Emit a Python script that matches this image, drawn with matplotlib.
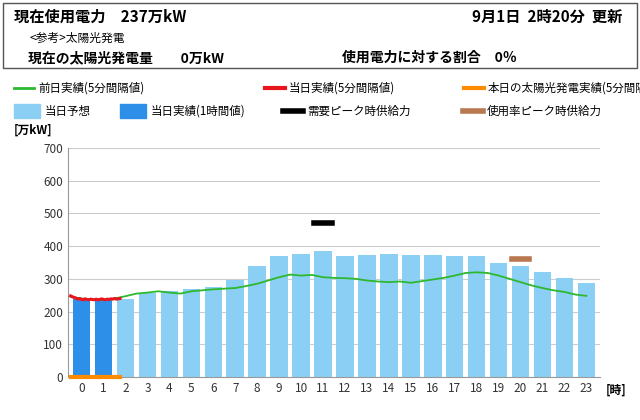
import matplotlib
matplotlib.use("Agg")
import matplotlib.pyplot as plt
from matplotlib.patches import Rectangle
from matplotlib.lines import Line2D
import numpy as np

plt.rcParams["font.family"] = ["Noto Sans CJK JP", "DejaVu Sans"]

hours = list(range(24))
forecast = [238, 238, 237, 257, 263, 269, 275, 297, 340, 370, 376, 385, 370, 373,
            376, 373, 373, 370, 370, 349, 340, 321, 303, 288]
actual_hourly = [238, 238]
prev_day = [245, 240, 237, 236, 240, 247, 255, 258, 262, 258, 255, 262, 265, 268,
            270, 272, 278, 285, 295, 305, 313, 310, 312, 305, 303, 302, 300, 295,
            292, 290, 292, 288, 293, 298, 303, 310, 318, 320, 318, 310, 300, 290,
            280, 272, 265, 260, 252, 248]
today = [248, 245, 243, 241, 238, 240, 237, 236, 239, 237, 236, 238, 237, 236,
         238, 236, 237, 239, 237, 236, 238, 237, 239, 238, 240, 238, 239, 240]
solar = [0] * 28
peak_demand = (11, 470)
peak_rate = (20, 362)

fig = plt.figure(figsize=(6.4, 4.2), dpi=100)
ax = fig.add_axes([68/640, 1-377/420, 532/640, 229/420])

ax.bar(hours, forecast, width=0.8, color="#8ccff5", zorder=2)
ax.bar(hours[:len(actual_hourly)], actual_hourly, width=0.8, color="#2e8fe8", zorder=3)
xp = np.arange(len(prev_day)) * 0.5 - 0.5
ax.plot(xp, prev_day, color="#2db82d", lw=1.3, zorder=4)
xt = np.arange(len(today)) * (5/60) - 0.5
ax.plot(xt, today, color="#e8141e", lw=2.2, zorder=5)
ax.plot(xt, solar, color="#ff8c00", lw=3, zorder=5, clip_on=False)
ax.plot([peak_demand[0]-0.4, peak_demand[0]+0.4], [peak_demand[1]]*2, color="black", lw=4, zorder=6)
ax.plot([peak_rate[0]-0.4, peak_rate[0]+0.4], [peak_rate[1]]*2, color="#b87850", lw=4, zorder=6)

ax.set_xlim(-0.62, 23.62)
ax.set_ylim(0, 700)
ax.set_yticks(range(0, 701, 100))
ax.set_xticks(hours)
ax.tick_params(labelsize=8.5, length=0, colors="#333333")
ax.grid(axis="y", color="#cccccc", lw=0.8, zorder=0)
for s in ["top", "right"]:
    ax.spines[s].set_visible(False)
ax.spines["left"].set_color("#999999")
ax.spines["bottom"].set_color("#999999")

fig.text(14/640, 1-130/420, "[万kW]", fontsize=8.5, va="center", weight="bold")
fig.text(606/640, 1-390/420, "[時]", fontsize=8.5, va="center", weight="bold")

# header box
fig.patches.append(Rectangle((3/640, 1-68/420), 634/640, 65/420, transform=fig.transFigure,
                             fill=False, ec="#555555", lw=1))
fig.text(14/640, 1-17/420, "現在使用電力　237万kW", fontsize=11, weight="bold", va="center")
fig.text(622/640, 1-17/420, "9月1日  2時20分  更新", fontsize=11, weight="bold", va="center", ha="right")
fig.text(30/640, 1-38/420, "<参考>太陽光発電", fontsize=8.5, va="center")
fig.text(28/640, 1-58/420, "現在の太陽光発電量　　0万kW", fontsize=10, weight="bold", va="center")
fig.text(342/640, 1-58/420, "使用電力に対する割合　0％", fontsize=10, weight="bold", va="center")

def leg_line(x0, y, color, label, lw=2):
    fig.lines.append(Line2D([x0/640, (x0+20)/640], [1-y/420]*2, transform=fig.transFigure, color=color, lw=lw))
    fig.text((x0+24)/640, 1-y/420, label, fontsize=8.3, va="center")

def leg_box(x0, y, color, label):
    fig.patches.append(Rectangle((x0/640, 1-(y+7)/420), 26/640, 14/420, transform=fig.transFigure, color=color))
    fig.text((x0+31)/640, 1-y/420, label, fontsize=8.3, va="center")

leg_line(14, 88, "#2db82d", "前日実績(5分間隔値)")
leg_line(265, 88, "#e8141e", "当日実績(5分間隔値)", lw=3)
leg_line(464, 88, "#ff8c00", "本日の太陽光発電実績(5分間隔値)", lw=3)
leg_box(14, 111, "#8ccff5", "当日予想")
leg_box(120, 111, "#2e8fe8", "当日実績(1時間値)")
leg_line(283, 111, "black", "需要ピーク時供給力", lw=4)
leg_line(463, 111, "#b87850", "使用率ピーク時供給力", lw=4)

fig.savefig("out.png", dpi=100)
